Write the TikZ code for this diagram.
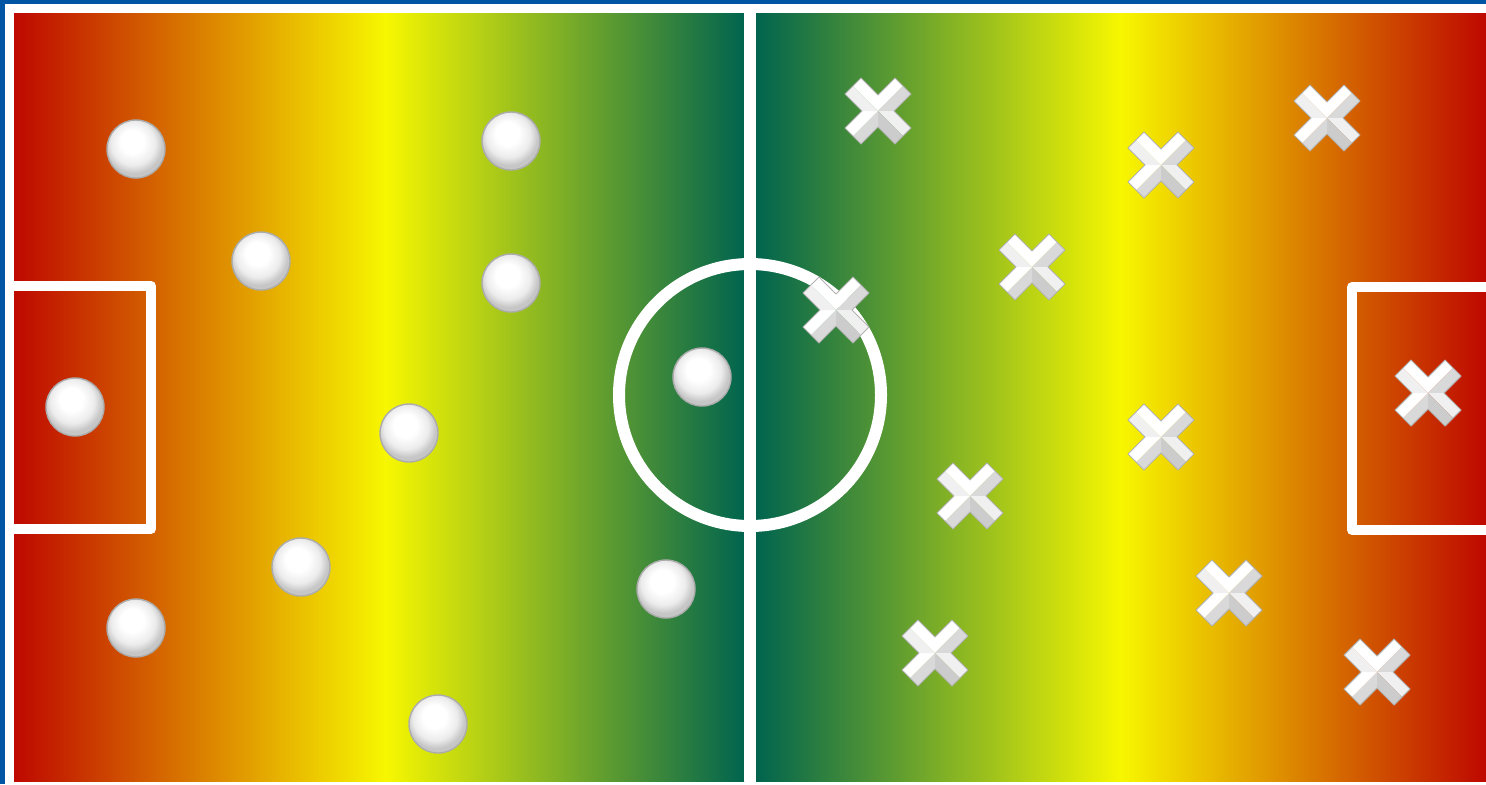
\documentclass[tikz,border=0pt]{standalone}
\definecolor{pitchred}{HTML}{BE0800}
\definecolor{pitchyellow}{HTML}{F7F700}
\definecolor{pitchgreen}{HTML}{00644E}
\definecolor{frameblue}{HTML}{0055A4}
\pgfdeclareradialshading{pearl}{\pgfpoint{-4bp}{8bp}}{color(0bp)=(white); color(10bp)=(white); color(19bp)=(gray!15); color(25bp)=(gray!45); color(50bp)=(gray!45)}
\tikzset{
  pitchline/.style={white, line width=6pt},
  boxline/.style={white, line width=5pt, line join=round},
  playerO/.pic={
    \shade[shading=pearl] (0,0) circle (29);
    \draw[gray!65, line width=0.7pt] (0,0) circle (29);
  },
  playerX/.pic={
    % facets, light from the top
    \fill[white]   (0,0) -- (0,-16) -- (17,-33) -- (25,-25) -- cycle;
    \fill[gray!30] (0,0) -- (25,-25) -- (33,-17) -- (16,0) -- cycle;
    \fill[gray!12] (0,0) -- (16,0) -- (33,17) -- (25,25) -- cycle;
    \fill[gray!40] (0,0) -- (25,25) -- (17,33) -- (0,16) -- cycle;
    \fill[gray!30] (0,0) -- (0,16) -- (-17,33) -- (-25,25) -- cycle;
    \fill[white]   (0,0) -- (-25,25) -- (-33,17) -- (-16,0) -- cycle;
    \fill[gray!12] (0,0) -- (-16,0) -- (-33,-17) -- (-25,-25) -- cycle;
    \fill[white]   (0,0) -- (-25,-25) -- (-17,-33) -- (0,-16) -- cycle;
    \draw[gray!60, line width=0.5pt, line join=round] (-17,-33) -- (0,-16) -- (17,-33) -- (33,-17) -- (16,0) -- (33,17)
      -- (17,33) -- (0,16) -- (-17,33) -- (-33,17) -- (-16,0) -- (-33,-17) -- cycle;
  }
}
\begin{document}
\begin{tikzpicture}[x=0.5pt, y=-0.5pt]
    \useasboundingbox (0,0) rectangle (1486,784);
    % Frame
    \fill[white] (0,0) rectangle (1486,784);
    \fill[frameblue] (0,0) rectangle (1486,4);
    \fill[frameblue] (0,0) rectangle (5,784);
    % Field shading, left and right half
    \shade[left color=pitchred, right color=pitchyellow] (14,13) rectangle (386,781);
    \shade[left color=pitchyellow, right color=pitchgreen] (385,13) rectangle (744,781);
    \shade[left color=pitchgreen, right color=pitchyellow] (756,13) rectangle (1121,781);
    \shade[left color=pitchyellow, right color=pitchred] (1120,13) rectangle (1486,781);
    % Halfway line and centre circle
    \coordinate (kickoff) at (750,395);
    \coordinate (midtop) at (750,13);
    \coordinate (midbot) at (750,781);
    \draw[pitchline] (midtop) -- (midbot);
    \draw[pitchline] (kickoff) circle (131);
    % Penalty boxes
    \draw[boxline] (14,286) -- (151,286) -- (151,529) -- (14,529);
    \draw[boxline] (1486,287) -- (1352,287) -- (1352,530) -- (1486,530);
    % Home side
    \foreach \x/\y in {136/149, 261/261, 511/141, 511/283, 75/407, 409/433,
                       702/377, 301/567, 136/628, 666/589, 438/724}
        \pic at (\x,\y) {playerO};
    % Away side
    \foreach \x/\y in {878/111, 1327/118, 1161/165, 1032/267, 836/310, 1428/393,
                       1161/437, 970/496, 1229/593, 935/653, 1377/672}
        \pic at (\x,\y) {playerX};
\end{tikzpicture}
\end{document}
